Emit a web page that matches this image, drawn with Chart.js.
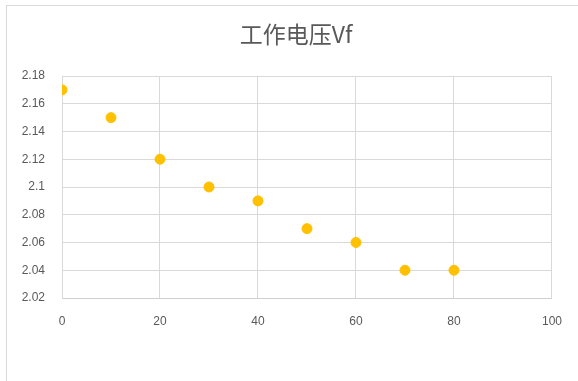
<!DOCTYPE html>
<html>
<head>
<meta charset="utf-8">
<script src="https://cdn.jsdelivr.net/npm/chart.js@4/dist/chart.umd.min.js"></script>
<style>
  html, body { margin: 0; padding: 0; background: #fff; }
  #wrap { position: relative; width: 578px; height: 381px; overflow: hidden; }
  #frame { position: absolute; left: 6px; top: 5px; width: 600px; height: 400px; border: 1px solid #d9d9d9; box-sizing: border-box; }
  canvas { position: absolute; left: 0; top: 0; }
</style>
</head>
<body>
<div id="wrap">
  <div id="frame"></div>
  <canvas id="c" width="578" height="381"></canvas>
</div>
<script>
const chartTitle = '工作电压Vf';
const xValues = [0, 10, 20, 30, 40, 50, 60, 70, 80];
const vfValues = [2.17, 2.15, 2.12, 2.10, 2.09, 2.07, 2.06, 2.04, 2.04];
const xTicks = [0, 20, 40, 60, 80, 100];
const yTicks = [2.02, 2.04, 2.06, 2.08, 2.10, 2.12, 2.14, 2.16, 2.18];

const points = xValues.map((x, i) => ({ x: x, y: vfValues[i] }));
const tickFont = { family: "'Liberation Sans', 'DejaVu Sans', sans-serif", size: 12 };
const textColor = '#595959';
const gridColor = '#d9d9d9';

// Chart title, centred over the whole chart frame
const titlePlugin = {
  id: 'centerTitle',
  afterDraw(chart) {
    const ctx = chart.ctx;
    ctx.save();
    ctx.font = "23px 'Noto Sans CJK SC', sans-serif";
    ctx.fillStyle = textColor;
    ctx.textAlign = 'center';
    ctx.textBaseline = 'middle';
    ctx.fillText(chartTitle, 296, 34);
    ctx.restore();
  }
};

new Chart(document.getElementById('c'), {
  type: 'scatter',
  data: {
    datasets: [{
      label: chartTitle,
      data: points,
      backgroundColor: '#ffc000',
      borderColor: '#ffc000',
      pointRadius: 5,
      pointHoverRadius: 5
    }]
  },
  options: {
    responsive: false,
    animation: false,
    layout: { padding: { left: 0, right: 26, top: 76, bottom: 0 } },
    plugins: {
      legend: { display: false },
      title: { display: false },
      tooltip: { enabled: false }
    },
    scales: {
      x: {
        type: 'linear',
        min: xTicks[0],
        max: xTicks[xTicks.length - 1],
        afterBuildTicks(scale) { scale.ticks = xTicks.map(v => ({ value: v })); },
        afterFit(scale) { scale.height = 83; },
        grid: { color: gridColor, drawTicks: false },
        border: { color: '#cfcfcf' },
        ticks: { color: textColor, font: tickFont, padding: 16, maxRotation: 0 }
      },
      y: {
        type: 'linear',
        min: yTicks[0],
        max: yTicks[yTicks.length - 1],
        afterBuildTicks(scale) { scale.ticks = yTicks.map(v => ({ value: v })); },
        afterFit(scale) { scale.width = 62; },
        grid: { color: gridColor, drawTicks: false },
        border: { color: gridColor },
        ticks: {
          color: textColor,
          font: tickFont,
          padding: 17,
          callback: v => String(Number(v.toFixed(2)))
        }
      }
    }
  },
  plugins: [titlePlugin]
});
</script>
</body>
</html>
